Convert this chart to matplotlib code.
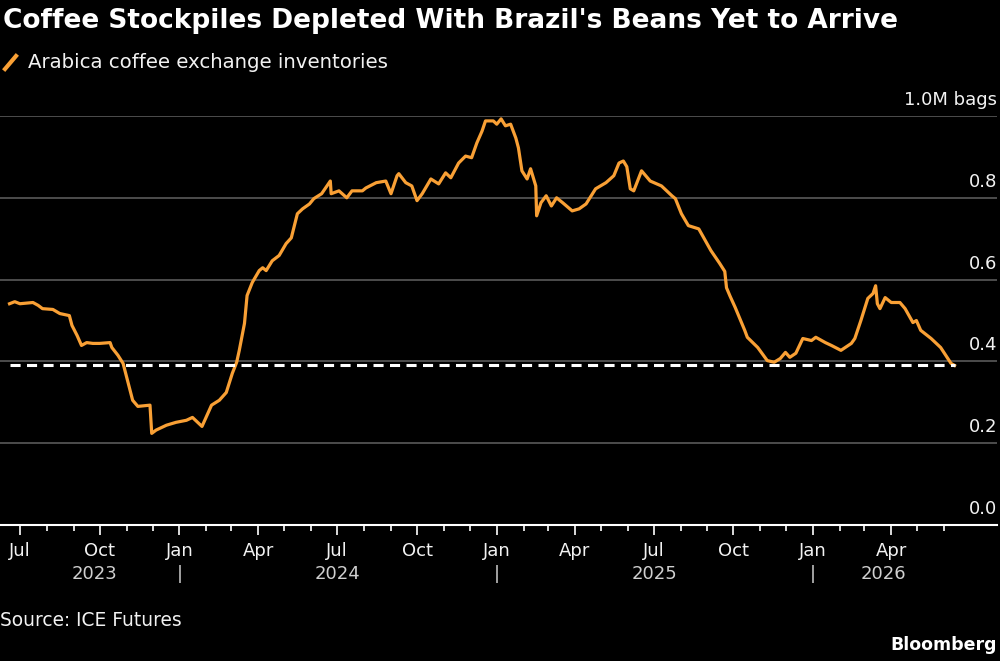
import matplotlib
matplotlib.use("Agg")
import matplotlib.pyplot as plt
import matplotlib.dates as mdates
import matplotlib.ticker as mticker
from matplotlib.lines import Line2D
import numpy as np
import pandas as pd

# Arabica coffee exchange inventories, million bags
dates = [
    "2023-06-19", "2023-06-25", "2023-07-01", "2023-07-16", "2023-07-22", "2023-07-27",
    "2023-08-08", "2023-08-16", "2023-08-27", "2023-08-30", "2023-09-05", "2023-09-10",
    "2023-09-16", "2023-09-23", "2023-10-01", "2023-10-13", "2023-10-15", "2023-10-22",
    "2023-10-28", "2023-11-02", "2023-11-08", "2023-11-14", "2023-11-28", "2023-11-30",
    "2023-12-05", "2023-12-17", "2023-12-28", "2024-01-09", "2024-01-16", "2024-01-22",
    "2024-01-27", "2024-02-07", "2024-02-16", "2024-02-24", "2024-03-02", "2024-03-07",
    "2024-03-10", "2024-03-16", "2024-03-19", "2024-03-25", "2024-04-02", "2024-04-06",
    "2024-04-10", "2024-04-17", "2024-04-25", "2024-05-03", "2024-05-09", "2024-05-12",
    "2024-05-16", "2024-05-22", "2024-05-30", "2024-06-04", "2024-06-13", "2024-06-23",
    "2024-06-24", "2024-07-03", "2024-07-12", "2024-07-18", "2024-07-30", "2024-08-03",
    "2024-08-15", "2024-08-26", "2024-09-01", "2024-09-08", "2024-09-10", "2024-09-18",
    "2024-09-25", "2024-10-01", "2024-10-07", "2024-10-17", "2024-10-26", "2024-11-03",
    "2024-11-09", "2024-11-18", "2024-11-26", "2024-12-03", "2024-12-09", "2024-12-15",
    "2024-12-19", "2024-12-28", "2025-01-01", "2025-01-06", "2025-01-11", "2025-01-17",
    "2025-01-23", "2025-01-26", "2025-01-30", "2025-02-05", "2025-02-09", "2025-02-15",
    "2025-02-16", "2025-02-21", "2025-02-27", "2025-03-05", "2025-03-11", "2025-03-18",
    "2025-03-29", "2025-04-06", "2025-04-14", "2025-04-25", "2025-05-07", "2025-05-16",
    "2025-05-22", "2025-05-27", "2025-05-31", "2025-06-04", "2025-06-08", "2025-06-17",
    "2025-06-27", "2025-07-10", "2025-07-22", "2025-07-26", "2025-08-02", "2025-08-10",
    "2025-08-22", "2025-08-31", "2025-09-05", "2025-09-15", "2025-09-21", "2025-09-23",
    "2025-09-27", "2025-10-03", "2025-10-14", "2025-10-17", "2025-10-29", "2025-11-09",
    "2025-11-17", "2025-11-24", "2025-11-30", "2025-12-05", "2025-12-12", "2025-12-20",
    "2025-12-30", "2026-01-04", "2026-01-15", "2026-01-22", "2026-02-02", "2026-02-07",
    "2026-02-14", "2026-02-18", "2026-02-25", "2026-03-05", "2026-03-11", "2026-03-14",
    "2026-03-16", "2026-03-19", "2026-03-25", "2026-04-01", "2026-04-11", "2026-04-17",
    "2026-04-26", "2026-04-30", "2026-05-05", "2026-05-17", "2026-05-28", "2026-06-09",
    "2026-06-13",
]
inventories = [
    0.541, 0.546, 0.541, 0.544, 0.537, 0.529,
    0.527, 0.517, 0.512, 0.488, 0.463, 0.439,
    0.446, 0.444, 0.444, 0.446, 0.434, 0.415,
    0.395, 0.354, 0.305, 0.290, 0.293, 0.224,
    0.232, 0.244, 0.251, 0.256, 0.263, 0.251,
    0.241, 0.293, 0.305, 0.324, 0.371, 0.398,
    0.427, 0.493, 0.561, 0.593, 0.622, 0.629,
    0.622, 0.646, 0.659, 0.688, 0.702, 0.727,
    0.761, 0.773, 0.785, 0.798, 0.810, 0.841,
    0.810, 0.817, 0.800, 0.817, 0.817, 0.824,
    0.837, 0.841, 0.810, 0.854, 0.859, 0.837,
    0.829, 0.793, 0.810, 0.846, 0.834, 0.861,
    0.849, 0.885, 0.902, 0.898, 0.934, 0.963,
    0.988, 0.988, 0.980, 0.993, 0.976, 0.980,
    0.946, 0.922, 0.866, 0.846, 0.871, 0.829,
    0.756, 0.788, 0.805, 0.780, 0.800, 0.788,
    0.768, 0.773, 0.785, 0.822, 0.837, 0.854,
    0.885, 0.890, 0.876, 0.822, 0.817, 0.866,
    0.841, 0.829, 0.805, 0.798, 0.761, 0.732,
    0.724, 0.690, 0.671, 0.640, 0.620, 0.580,
    0.560, 0.532, 0.476, 0.459, 0.434, 0.402,
    0.398, 0.407, 0.422, 0.410, 0.420, 0.456,
    0.451, 0.459, 0.446, 0.439, 0.427, 0.434,
    0.444, 0.456, 0.500, 0.554, 0.566, 0.585,
    0.541, 0.529, 0.556, 0.544, 0.544, 0.529,
    0.495, 0.500, 0.476, 0.456, 0.434, 0.395,
    0.390,
]
y_ticks = [0.0, 0.2, 0.4, 0.6, 0.8, 1.0]
y_labels = ["0.0", "0.2", "0.4", "0.6", "0.8", "1.0M bags"]
years = [2023, 2024, 2025, 2026]

title = "Coffee Stockpiles Depleted With Brazil's Beans Yet to Arrive"
legend_label = "Arabica coffee exchange inventories"
source = "Source: ICE Futures"

ORANGE = "#f9a035"
GRID = "#5a5a5a"
TEXT = "#f2f2f2"

x = pd.to_datetime(dates)
y = np.array(inventories)

plt.rcParams["font.family"] = ["DejaVu Sans"]

fig = plt.figure(figsize=(10, 6.61), dpi=100, facecolor="black")
ax = fig.add_axes([0.0, 1 - 525 / 661, 0.997, (525 - 116) / 661])
ax.set_facecolor("black")

# Data
ax.plot(x, y, color=ORANGE, linewidth=2.3, solid_joinstyle="round", zorder=3)
ax.plot([x[0], x[-1]], [y[-1], y[-1]], color="white", linewidth=2.2,
        dashes=(3.3, 2.1), zorder=4)

# Axes limits
ax.set_xlim(pd.Timestamp("2023-06-08"), pd.Timestamp("2026-08-01"))
ax.set_ylim(0, 1.0)

# Y grid + labels drawn inside, above each gridline
ax.set_yticks(y_ticks)
ax.set_yticklabels([])
ax.tick_params(axis="y", length=0)
ax.grid(axis="y", color=GRID, linewidth=1.2)
for v, lab in zip(y_ticks, y_labels):
    ax.annotate(lab, xy=(1, v), xycoords=("axes fraction", "data"),
                xytext=(0, 5), textcoords="offset points",
                ha="right", va="bottom", color=TEXT, fontsize=13)

# X axis: month ticks only up to the last data point
months = pd.date_range("2023-07-01", x[-1], freq="MS")
quarters = [m for m in months if m.month in (1, 4, 7, 10)]
ax.xaxis.set_major_locator(mticker.FixedLocator(mdates.date2num(quarters)))
ax.xaxis.set_major_formatter(mdates.DateFormatter("%b"))
ax.xaxis.set_minor_locator(mticker.FixedLocator(mdates.date2num(months)))
ax.tick_params(axis="x", which="major", length=7, width=1.2, color="white",
               labelcolor=TEXT, labelsize=13, pad=5)
ax.tick_params(axis="x", which="minor", length=4, width=1.2, color="white")

for side in ["top", "left", "right"]:
    ax.spines[side].set_visible(False)
ax.spines["bottom"].set_color("white")
ax.spines["bottom"].set_linewidth(1.5)

# Year labels centred on the visible data in each year, with separators
xtrans = ax.get_xaxis_transform()
for yr in years:
    lo = max(x[0], pd.Timestamp(f"{yr}-01-01"))
    hi = min(x[-1], pd.Timestamp(f"{yr}-12-31"))
    mid = lo + (hi - lo) / 2
    ax.text(mid, -0.12, str(yr), transform=xtrans, ha="center", va="center",
            color="#d0d0d0", fontsize=13)
    if yr > years[0]:
        ax.text(pd.Timestamp(f"{yr}-01-01"), -0.12, "|", transform=xtrans,
                ha="center", va="center", color="#d0d0d0", fontsize=13)

# Title, legend, source, logo
fig.text(0.003, 0.988, title, color="white", fontsize=19, fontweight="bold",
         va="top", ha="left")
fig.add_artist(Line2D([5 / 1000, 16 / 1000], [1 - 69 / 661, 1 - 56 / 661],
                      color=ORANGE, linewidth=3, transform=fig.transFigure))
fig.text(0.028, 1 - 62 / 661, legend_label, color=TEXT, fontsize=14.2,
         va="center", ha="left")
fig.text(0.0, 1 - 621 / 661, source, color=TEXT, fontsize=13.4,
         va="center", ha="left")
fig.text(0.997, 1 - 645 / 661, "Bloomberg", color="white", fontsize=12.5,
         fontweight="bold", va="center", ha="right")

fig.savefig("out.png", dpi=100, facecolor="black")
